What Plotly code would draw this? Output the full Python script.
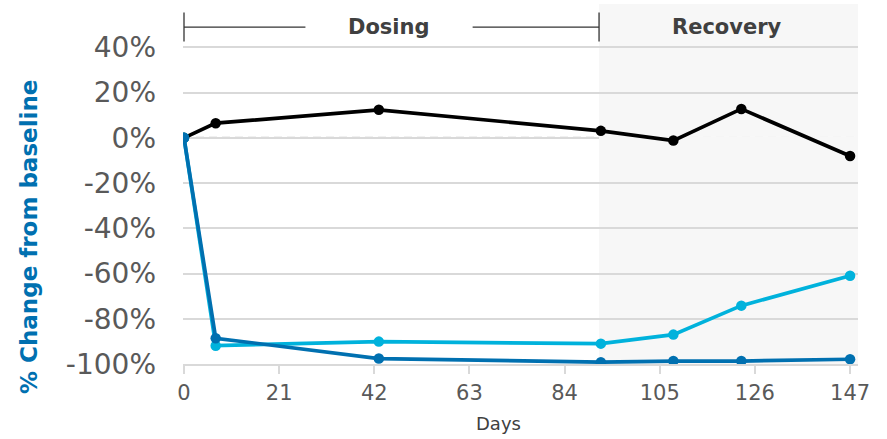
import plotly.graph_objects as go

days_black = [0, 7, 43, 92, 108, 123, 147]
pct_black = [0, 6.5, 12.4, 3.1, -1.2, 12.8, -8.0]

days_cyan = [0, 7, 43, 92, 108, 123, 147]
pct_cyan = [0, -91.9, -90.1, -91.0, -87.0, -74.2, -61.0]

days_dark = [0, 7, 43, 92, 108, 123, 147]
pct_dark = [0, -88.6, -97.6, -99.2, -98.7, -98.7, -97.9]

x_ticks = [0, 21, 42, 63, 84, 105, 126, 147]
y_ticks = [-100, -80, -60, -40, -20, 0, 20, 40]
y_tick_text = ["-100%", "-80%", "-60%", "-40%", "-20%", "0%", "20%", "40%"]
recovery_start = 91.6
x_range = [-0.22, 148.75]
y_range = [-100, 59.2]

C_BLACK = "#000000"
C_CYAN = "#00b2dc"
C_DARK = "#0070b0"
GRID = "#d9d9d9"

fig = go.Figure()
for xs, ys, c in [(days_black, pct_black, C_BLACK), (days_cyan, pct_cyan, C_CYAN), (days_dark, pct_dark, C_DARK)]:
    fig.add_trace(go.Scatter(x=xs, y=ys, mode="lines+markers",
                             line=dict(color=c, width=3.7),
                             marker=dict(color=c, size=10.5),
                             showlegend=False, hoverinfo="skip"))

# recovery shading
fig.add_shape(type="rect", xref="x", yref="paper", x0=recovery_start, x1=x_range[1], y0=0, y1=1,
              fillcolor="#f7f7f7", line=dict(width=0), layer="below")
# dashed zero line (white underlay hides the solid grid line at 0)
fig.add_shape(type="line", xref="paper", yref="y", x0=0, x1=0.995, y0=0, y1=0,
              line=dict(color="white", width=2.5), layer="between")
fig.add_shape(type="rect", xref="x", yref="y", x0=recovery_start, x1=x_range[1], y0=-0.7, y1=0.7,
              fillcolor="#f7f7f7", line=dict(width=0), layer="between")
fig.add_shape(type="line", xref="paper", yref="y", x0=0, x1=0.995, y0=0, y1=0,
              line=dict(color="#c4c4c4", width=2, dash="8px,5px"), layer="between")

# dosing bracket
br_y = 49.0
for x0, x1 in [(0, 26.8), (63.7, recovery_start)]:
    fig.add_shape(type="line", xref="x", yref="y", x0=x0, x1=x1, y0=br_y, y1=br_y,
                  line=dict(color="#333333", width=1.3))
for xv in [0, recovery_start]:
    fig.add_shape(type="line", xref="x", yref="y", x0=xv, x1=xv, y0=br_y - 6.4, y1=br_y + 6.4,
                  line=dict(color="#333333", width=1.3))

fig.add_annotation(x=45.3, y=br_y, xref="x", yref="y", text="<b>Dosing</b>", showarrow=False,
                   font=dict(family="DejaVu Sans", size=21, color="#404040"))
fig.add_annotation(x=119.9, y=br_y, xref="x", yref="y", text="<b>Recovery</b>", showarrow=False,
                   font=dict(family="DejaVu Sans", size=21, color="#404040"))

fig.add_annotation(x=498, y=423, xref="paper", yref="paper", text="Days", showarrow=False,
                   font=dict(family="DejaVu Sans", size=18, color="#404040"))
fig.add_annotation(x=29, y=237, xref="paper", yref="paper", text="<b>% Change from baseline</b>", showarrow=False,
                   textangle=-90,
                   font=dict(family="DejaVu Sans", size=23, color=C_DARK))

W, H = 887, 439
L, R, T, B = 183, 29, 4, 75
# convert annotation pixel coords to paper
for a in fig.layout.annotations[2:]:
    a.x = (a.x - L) / (W - L - R)
    a.y = (H - B - a.y) / (H - T - B)
    a.xanchor = "center"
    a.yanchor = "middle"

fig.update_layout(
    width=W, height=H,
    margin=dict(l=L, r=R, t=T, b=B, autoexpand=False),
    plot_bgcolor="white", paper_bgcolor="white",
    xaxis=dict(range=x_range, tickvals=x_ticks, showgrid=False, zeroline=False, automargin=False,
               showline=True, linecolor=GRID, linewidth=2,
               ticks="outside", ticklen=8, tickwidth=2, tickcolor=GRID,
               tickfont=dict(family="DejaVu Sans", size=21, color="#595959"),
               ticklabelstandoff=1),
    yaxis=dict(range=y_range, tickvals=y_ticks, ticktext=y_tick_text, showgrid=True, gridcolor=GRID, gridwidth=1.5,
               zeroline=False, showline=False, automargin=False,
               tickfont=dict(family="DejaVu Sans", size=28, color="#595959"),
               ticklabelstandoff=26),
)

fig.write_html("out.html", post_script="document.body.style.margin='0';",
               config={"displayModeBar": False})
